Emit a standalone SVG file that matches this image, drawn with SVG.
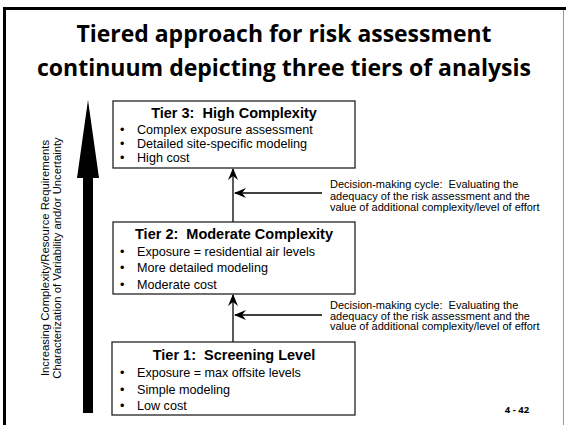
<svg xmlns="http://www.w3.org/2000/svg" width="566" height="425" viewBox="0 0 566 425">
<defs>
<style>
text{white-space:pre}
.title{font-family:"Open Sans","Liberation Sans",sans-serif;font-weight:bold;font-size:24px;fill:#000;text-anchor:middle}
.box{fill:#fff;stroke:#222;stroke-width:1.3}
.th{font-family:"Liberation Sans",Arial,sans-serif;font-weight:bold;font-size:14.5px;fill:#000;text-anchor:middle}
.bl{font-family:"Liberation Sans",Arial,sans-serif;font-size:12.6px;fill:#000}
.note{font-family:"Liberation Sans",Arial,sans-serif;font-size:11px;fill:#000}
.side{font-family:"Liberation Sans",Arial,sans-serif;font-size:11.3px;fill:#000;text-anchor:middle}
.ln{stroke:#000;stroke-width:1.3;fill:none}
</style>
<marker id="ah" viewBox="0 0 12 10" refX="11" refY="5" markerWidth="12" markerHeight="10" markerUnits="userSpaceOnUse" orient="auto">
<path d="M0,0 L12,5 L0,10 L4,5 Z" fill="#000"/>
</marker>
</defs>
<rect width="566" height="425" fill="#fff"/>
<g id="frame">
<rect x="3" y="7" width="563" height="3" fill="#000"/>
<rect x="3" y="7" width="3" height="418" fill="#000"/>
<rect x="563" y="10" width="1" height="415" fill="#999"/>
</g>
<g id="title">
<text class="title" x="284" y="42" textLength="415" lengthAdjust="spacingAndGlyphs">Tiered approach for risk assessment</text>
<text class="title" x="284" y="76" textLength="494" lengthAdjust="spacingAndGlyphs">continuum depicting three tiers of analysis</text>
</g>
<g id="bigarrow">
<path d="M88,100 L99,178 L93,178 L93,413 L83,413 L83,178 L77,178 Z" fill="#000"/>
<text class="side" transform="translate(49,258) rotate(-90)">Increasing Complexity/Resource Requirements</text>
<text class="side" transform="translate(61,258) rotate(-90)">Characterization of Variability and/or Uncertainty</text>
</g>
<g id="connectors">
<line class="ln" x1="233" y1="222" x2="233" y2="169" marker-end="url(#ah)"/>
<line class="ln" x1="233" y1="342" x2="233" y2="295" marker-end="url(#ah)"/>
<line class="ln" x1="322" y1="193" x2="235" y2="193" marker-end="url(#ah)"/>
<line class="ln" x1="322" y1="315" x2="235" y2="315" marker-end="url(#ah)"/>
</g>
<g id="tier3">
<rect class="box" x="113" y="101" width="242" height="67"/>
<text class="th" x="234" y="118">Tier 3:  High Complexity</text>
<text class="bl" x="120" y="134">•</text><text class="bl" x="137" y="134">Complex exposure assessment</text>
<text class="bl" x="120" y="148">•</text><text class="bl" x="137" y="148">Detailed site-specific modeling</text>
<text class="bl" x="120" y="162">•</text><text class="bl" x="137" y="162">High cost</text>
</g>
<g id="tier2">
<rect class="box" x="113" y="222" width="242" height="72"/>
<text class="th" x="234" y="238.5">Tier 2:  Moderate Complexity</text>
<text class="bl" x="120" y="255.5">•</text><text class="bl" x="137" y="255.5">Exposure = residential air levels</text>
<text class="bl" x="120" y="272">•</text><text class="bl" x="137" y="272">More detailed modeling</text>
<text class="bl" x="120" y="288.5">•</text><text class="bl" x="137" y="288.5">Moderate cost</text>
</g>
<g id="tier1">
<rect class="box" x="112" y="342" width="243" height="73"/>
<text class="th" x="234" y="359.5">Tier 1:  Screening Level</text>
<text class="bl" x="120" y="376.5">•</text><text class="bl" x="137" y="376.5">Exposure = max offsite levels</text>
<text class="bl" x="120" y="393.5">•</text><text class="bl" x="137" y="393.5">Simple modeling</text>
<text class="bl" x="120" y="409.5">•</text><text class="bl" x="137" y="409.5">Low cost</text>
</g>
<g id="note1">
<text class="note" x="330" y="188">Decision-making cycle:  Evaluating the</text>
<text class="note" x="330" y="199.5">adequacy of the risk assessment and the</text>
<text class="note" x="330" y="211">value of additional complexity/level of effort</text>
</g>
<g id="note2">
<text class="note" x="330" y="309">Decision-making cycle:  Evaluating the</text>
<text class="note" x="330" y="319.5">adequacy of the risk assessment and the</text>
<text class="note" x="330" y="330">value of additional complexity/level of effort</text>
</g>
<g id="pagenum">
<text x="517" y="413" style="font-family:'Open Sans','Liberation Sans',sans-serif;font-weight:bold;font-size:9.5px;text-anchor:middle">4 - 42</text>
</g>
</svg>
